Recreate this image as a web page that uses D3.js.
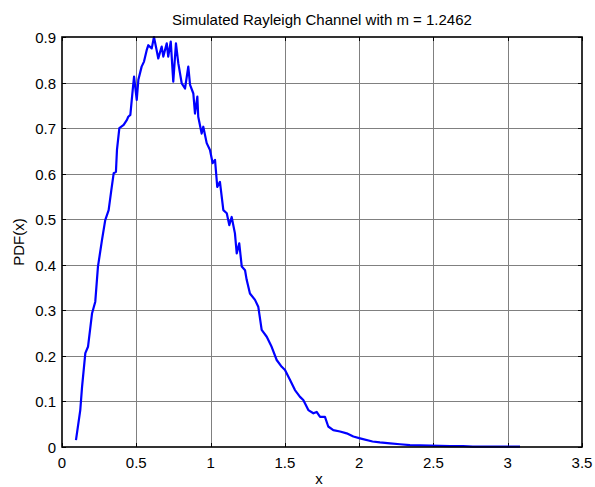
<!DOCTYPE html>
<html lang="en">
<head>
  <meta charset="UTF-8">
  <title>Simulated Rayleigh Channel</title>
  <script src="https://d3js.org/d3.v7.min.js"></script>
  <style>
    body { margin: 0; background: #fff; }
    svg { font-family: "Liberation Sans", Arial, sans-serif; }
    .tick-label { font-size: 15px; fill: #000; }
  </style>
</head>
<body>
  <svg id="chart" width="595" height="487"></svg>
  <script>
    // Values (simulated PDF estimate)
    const xValues = [0.094, 0.123, 0.135, 0.157, 0.175, 0.202, 0.224, 0.242, 0.269, 0.291,
      0.314, 0.332, 0.348, 0.363, 0.370, 0.386, 0.415, 0.437, 0.446, 0.460,
      0.476, 0.485, 0.503, 0.514, 0.536, 0.552, 0.570, 0.581, 0.604, 0.619,
      0.637, 0.648, 0.671, 0.682, 0.705, 0.715, 0.732, 0.749, 0.767, 0.783,
      0.806, 0.828, 0.850, 0.862, 0.884, 0.895, 0.911, 0.917, 0.940, 0.951,
      0.974, 0.996, 1.014, 1.030, 1.045, 1.063, 1.086, 1.109, 1.126, 1.142,
      1.164, 1.176, 1.193, 1.210, 1.232, 1.243, 1.265, 1.299, 1.321, 1.344,
      1.378, 1.411, 1.445, 1.479, 1.501, 1.535, 1.568, 1.602, 1.624, 1.658,
      1.692, 1.714, 1.737, 1.770, 1.792, 1.826, 1.871, 1.916, 1.961, 2.006,
      2.090, 2.140, 2.208, 2.275, 2.342, 2.477, 2.612, 2.699, 2.766, 3.083];
    const pdfValues = [0.015, 0.081, 0.132, 0.206, 0.220, 0.293, 0.319, 0.396, 0.454, 0.498,
      0.520, 0.564, 0.601, 0.604, 0.652, 0.700, 0.707, 0.718, 0.725, 0.729,
      0.784, 0.813, 0.762, 0.806, 0.835, 0.846, 0.871, 0.882, 0.875, 0.900,
      0.871, 0.853, 0.879, 0.857, 0.886, 0.857, 0.890, 0.802, 0.886, 0.842,
      0.798, 0.787, 0.835, 0.795, 0.776, 0.732, 0.769, 0.725, 0.688, 0.703,
      0.667, 0.652, 0.623, 0.630, 0.571, 0.582, 0.520, 0.513, 0.487, 0.505,
      0.469, 0.425, 0.447, 0.396, 0.388, 0.367, 0.337, 0.323, 0.308, 0.257,
      0.242, 0.220, 0.191, 0.176, 0.169, 0.147, 0.125, 0.110, 0.103, 0.081,
      0.074, 0.077, 0.066, 0.066, 0.045, 0.037, 0.034, 0.030, 0.023, 0.019,
      0.012, 0.010, 0.008, 0.006, 0.004, 0.003, 0.002, 0.002, 0.001, 0.001];
    const xTicks = [0, 0.5, 1, 1.5, 2, 2.5, 3, 3.5];
    const yTicks = [0, 0.1, 0.2, 0.3, 0.4, 0.5, 0.6, 0.7, 0.8, 0.9];
    const titleText = "Simulated Rayleigh Channel with m = 1.2462";

    const data = xValues.map((x, i) => ({ x, y: pdfValues[i] }));

    const margin = { left: 62, right: 13, top: 37, bottom: 40 };
    const width = 595, height = 487;
    const svg = d3.select("#chart");

    const x = d3.scaleLinear().domain([0, 3.5]).range([margin.left, width - margin.right]);
    const y = d3.scaleLinear().domain([0, 0.9]).range([height - margin.bottom, margin.top]);

    // grid
    const grid = svg.append("g").attr("stroke", "#808080").attr("stroke-width", 1);
    grid.selectAll("line.vx").data(xTicks.slice(1, -1)).join("line")
      .attr("x1", d => Math.round(x(d)) + 0.5).attr("x2", d => Math.round(x(d)) + 0.5)
      .attr("y1", y(0.9)).attr("y2", y(0));
    grid.selectAll("line.hy").data(yTicks.slice(1, -1)).join("line")
      .attr("y1", d => Math.round(y(d)) + 0.5).attr("y2", d => Math.round(y(d)) + 0.5)
      .attr("x1", x(0)).attr("x2", x(3.5));

    // tick marks, inward on all four sides
    const tk = 4;
    const ticks = svg.append("g").attr("stroke", "#000").attr("stroke-width", 1);
    xTicks.forEach(t => {
      const px = Math.round(x(t)) + 0.5;
      ticks.append("line").attr("x1", px).attr("x2", px).attr("y1", y(0)).attr("y2", y(0) - tk);
      ticks.append("line").attr("x1", px).attr("x2", px).attr("y1", y(0.9)).attr("y2", y(0.9) + tk);
    });
    yTicks.forEach(t => {
      const py = Math.round(y(t)) + 0.5;
      ticks.append("line").attr("y1", py).attr("y2", py).attr("x1", x(0)).attr("x2", x(0) + tk);
      ticks.append("line").attr("y1", py).attr("y2", py).attr("x1", x(3.5)).attr("x2", x(3.5) - tk);
    });

    // data line
    const line = d3.line().x(d => x(d.x)).y(d => y(d.y));
    svg.append("path")
      .datum(data)
      .attr("fill", "none")
      .attr("stroke", "#0000ff")
      .attr("stroke-width", 2.2)
      .attr("stroke-linejoin", "round")
      .attr("d", line);

    // box
    svg.append("rect")
      .attr("x", x(0)).attr("y", y(0.9))
      .attr("width", x(3.5) - x(0)).attr("height", y(0) - y(0.9))
      .attr("fill", "none").attr("stroke", "#000").attr("stroke-width", 1.6);

    // tick labels
    svg.append("g").selectAll("text").data(xTicks).join("text")
      .attr("class", "tick-label")
      .attr("x", d => x(d)).attr("y", y(0) + 21)
      .attr("text-anchor", "middle")
      .text(d => d);
    svg.append("g").selectAll("text").data(yTicks).join("text")
      .attr("class", "tick-label")
      .attr("x", x(0) - 6).attr("y", d => y(d) + 6)
      .attr("text-anchor", "end")
      .text(d => d);

    // titles
    svg.append("text")
      .attr("x", (x(0) + x(3.5)) / 2).attr("y", 25)
      .attr("text-anchor", "middle")
      .attr("font-size", 15)
      .text(titleText);
    svg.append("text")
      .attr("x", (x(0) + x(3.5)) / 2 - 3).attr("y", 484)
      .attr("text-anchor", "middle")
      .attr("font-size", 15)
      .text("x");
    svg.append("text")
      .attr("transform", `translate(24,${(y(0) + y(0.9)) / 2}) rotate(-90)`)
      .attr("text-anchor", "middle")
      .attr("font-size", 15)
      .text("PDF(x)");
  </script>
</body>
</html>
